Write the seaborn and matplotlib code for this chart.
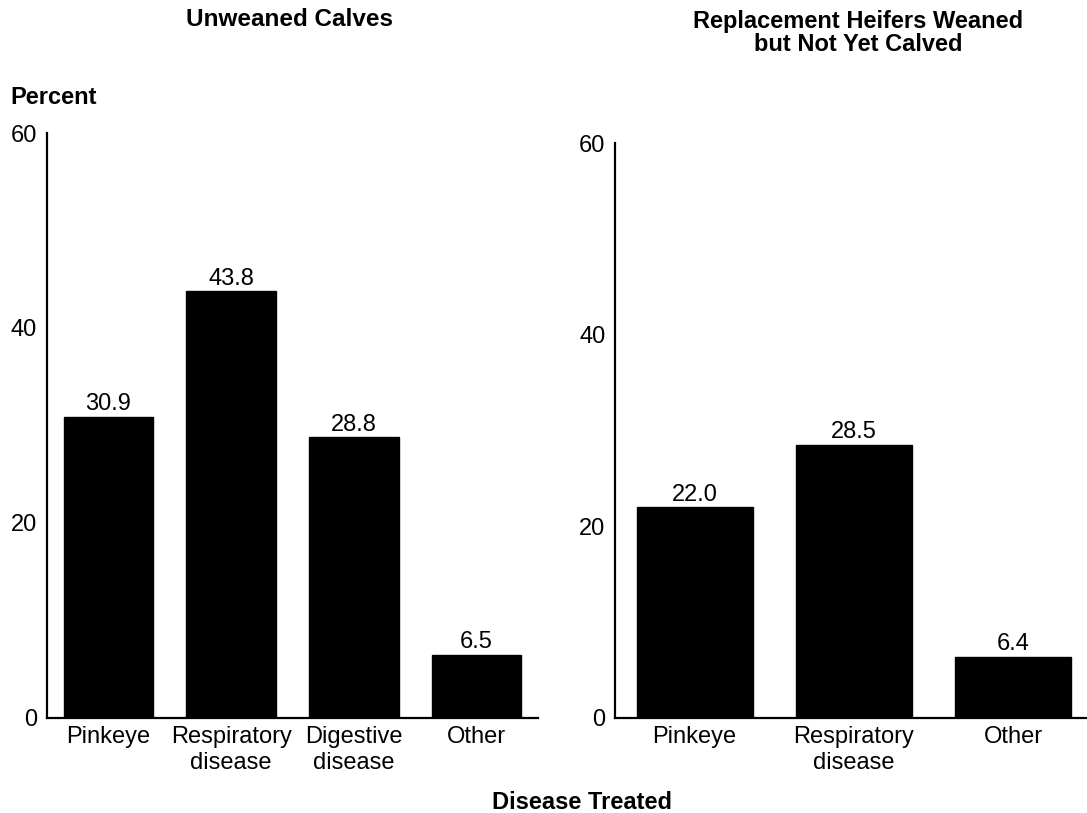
import matplotlib
matplotlib.use("Agg")
import matplotlib.pyplot as plt
import seaborn as sns
import pandas as pd

sns.set_theme(style="white")
plt.rcParams['font.family'] = ['Liberation Sans', 'DejaVu Sans']
plt.rcParams['text.color'] = 'black'

left_categories = ["Pinkeye", "Respiratory\ndisease", "Digestive\ndisease", "Other"]
left_values = [30.9, 43.8, 28.8, 6.5]
right_categories = ["Pinkeye", "Respiratory\ndisease", "Other"]
right_values = [22.0, 28.5, 6.4]
yticks = [0, 20, 40, 60]

left_title = "Unweaned Calves"
right_title = "Replacement Heifers Weaned\nbut Not Yet Calved"

fig = plt.figure(figsize=(10.87, 8.13), dpi=100)
axL = fig.add_axes([0.0432, 0.1169, 0.4518, 0.7195])
axR = fig.add_axes([0.5658, 0.1169, 0.4397, 0.7072])

FS = 17

def draw(ax, cats, vals):
    df = pd.DataFrame({"cat": cats, "val": vals})
    sns.barplot(data=df, x="cat", y="val", ax=ax, color="black",
                width=0.73, saturation=1, edgecolor="black")
    ax.set_xlim(-0.5, len(cats) - 0.5)
    ax.set_ylim(0, 60)
    ax.set_yticks(yticks)
    ax.set_xlabel("")
    ax.set_ylabel("")
    for s in ["top", "right"]:
        ax.spines[s].set_visible(False)
    for s in ["left", "bottom"]:
        ax.spines[s].set_color("black")
        ax.spines[s].set_linewidth(1.6)
    ax.tick_params(axis="both", length=0, labelsize=FS, colors="black")
    ax.tick_params(axis="y", pad=7)
    ax.tick_params(axis="x", pad=6)
    for c in ax.containers:
        ax.bar_label(c, fmt="%.1f", fontsize=FS, padding=1, color="black")

draw(axL, left_categories, left_values)
draw(axR, right_categories, right_values)

fig.text(290 / 1087, 1 - 20 / 813, left_title, ha="center", va="center",
         fontsize=FS + 0.5, fontweight="bold", color="black")
fig.text(858 / 1087, 1 - 33 / 813, right_title, ha="center", va="center",
         fontsize=FS, fontweight="bold", linespacing=0.95, color="black")
fig.text(10 / 1087, 1 - 97 / 813, "Percent", ha="left", va="center",
         fontsize=FS, fontweight="bold", color="black")
fig.text(582 / 1087, 1 - 802 / 813, "Disease Treated", ha="center", va="center",
         fontsize=FS, fontweight="bold", color="black")

fig.savefig("out.png", dpi=100, facecolor="white")
